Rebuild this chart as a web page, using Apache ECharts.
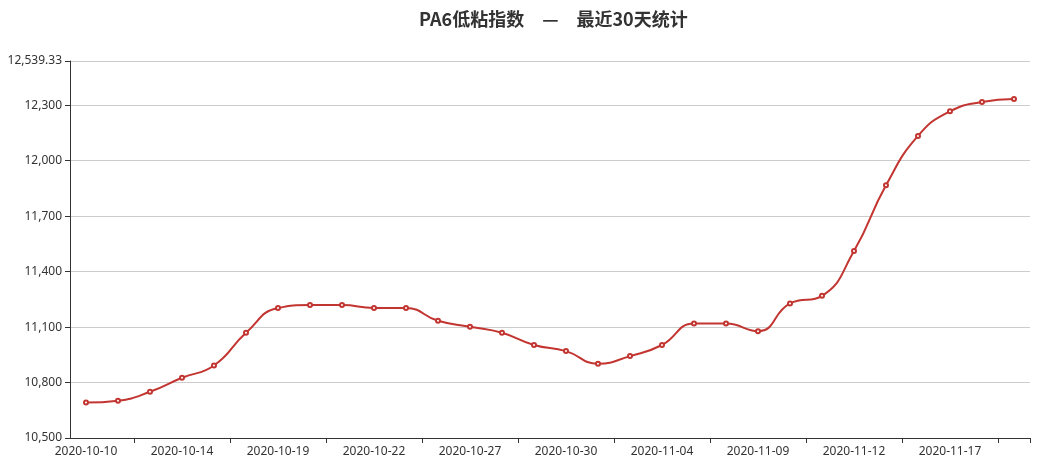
<!DOCTYPE html>
<html>
<head>
<meta charset="utf-8">
<script src="https://cdn.jsdelivr.net/npm/echarts@6/dist/echarts.min.js"></script>
<style>
  html, body { margin: 0; padding: 0; background: #fff; }
  #chart { width: 1040px; height: 465px; }
</style>
</head>
<body>
<div id="chart"></div>
<script>
  const titleText = 'PA6低粘指数　—　最近30天统计'
  const dates = [
    '2020-10-10', '2020-10-12', '2020-10-13', '2020-10-14', '2020-10-15', '2020-10-16',
    '2020-10-19', '2020-10-20', '2020-10-21', '2020-10-22', '2020-10-23', '2020-10-26',
    '2020-10-27', '2020-10-28', '2020-10-29', '2020-10-30', '2020-11-02', '2020-11-03',
    '2020-11-04', '2020-11-05', '2020-11-06', '2020-11-09', '2020-11-10', '2020-11-11',
    '2020-11-12', '2020-11-13', '2020-11-16', '2020-11-17', '2020-11-18', '2020-11-19'
  ]
  const indexValues = [
    10692, 10702, 10750, 10826, 10892, 11069,
    11203, 11219, 11219, 11203, 11203, 11134,
    11102, 11069, 11003, 10970, 10902, 10943,
    11003, 11119, 11119, 11078, 11228, 11269,
    11511, 11867, 12134, 12267, 12318, 12334
  ]
  const yMin = 10500
  const yMax = 12539.33
  const yStep = 300

  const chart = echarts.init(document.getElementById('chart'))
  chart.setOption({
    animation: false,
    title: {
      text: titleText,
      left: 414,
      top: 5,
      textStyle: {
        fontSize: 18,
        fontWeight: 'bold',
        color: '#333',
        fontFamily: 'Noto Sans CJK SC'
      }
    },
    grid: {
      left: 70,
      right: 10,
      top: 61,
      bottom: 27
    },
    xAxis: {
      type: 'category',
      data: dates,
      boundaryGap: true,
      axisLine: { show: true, lineStyle: { color: '#333' } },
      axisTick: {
        show: true,
        // ticks sit on the boundary before every third label
        interval: function (idx) { return idx % 3 === 2 },
        lineStyle: { color: '#333' }
      },
      axisLabel: {
        interval: 2,
        color: '#333',
        fontSize: 12,
        fontFamily: 'Noto Sans'
      },
      splitLine: { show: false }
    },
    yAxis: {
      type: 'value',
      min: yMin,
      max: yMax,
      interval: yStep,
      axisLine: { show: true, lineStyle: { color: '#333' } },
      axisTick: { show: true, lineStyle: { color: '#333' } },
      axisLabel: {
        color: '#333',
        fontSize: 12,
        fontFamily: 'Noto Sans',
        formatter: function (v) { return v.toLocaleString('en-US') }
      },
      splitLine: { show: true, lineStyle: { color: '#ccc' } }
    },
    series: [{
      type: 'line',
      data: indexValues,
      smooth: true,
      symbol: 'emptyCircle',
      symbolSize: 4,
      showAllSymbol: true,
      itemStyle: { color: '#c23531', borderColor: '#c23531', borderWidth: 1 },
      lineStyle: { color: '#c23531', width: 2 }
    }]
  })
</script>
</body>
</html>
